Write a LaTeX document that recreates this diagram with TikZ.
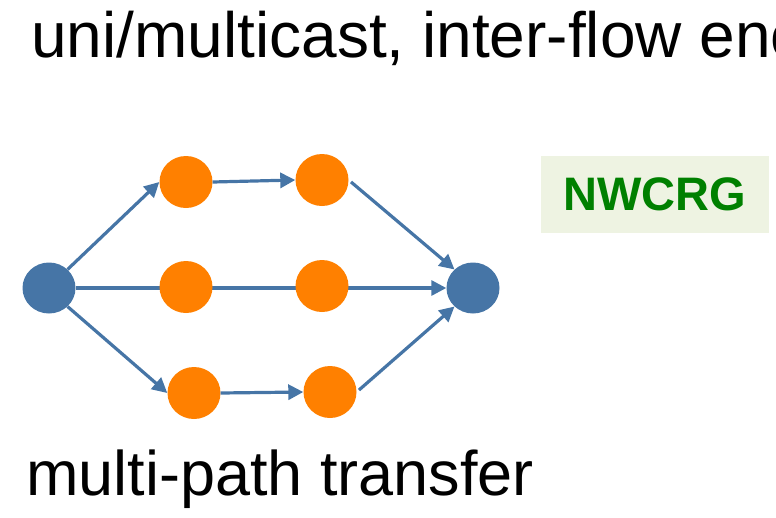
\documentclass[tikz,border=0pt]{standalone}
\usepackage{fontspec}
\setmainfont{Liberation Sans}
\usetikzlibrary{shapes.geometric,arrows.meta}
\definecolor{pathblue}{RGB}{70,117,166}
\definecolor{relayorange}{RGB}{255,128,0}
\definecolor{tagfill}{RGB}{238,243,226}
\definecolor{taggreen}{RGB}{0,128,0}
\tikzset{
    endpoint/.style={ellipse, fill=pathblue, minimum width=53pt, minimum height=51pt, inner sep=0pt},
    relay/.style={ellipse, fill=relayorange, minimum width=53pt, minimum height=52pt, inner sep=0pt},
    link/.style={draw=pathblue, line width=3.2pt},
    arrow/.style={link, -{Triangle[length=15pt, width=15pt]}},
    tag/.style={rectangle, fill=tagfill, minimum width=228pt, minimum height=77pt, inner sep=0pt, text=taggreen, font=\fontsize{47}{47}\selectfont\bfseries},
    heading/.style={anchor=base west, inner sep=0pt, font=\fontsize{63}{63}\selectfont}
}

\begin{document}
\begin{tikzpicture}[x=1pt, y=-1pt]
    \useasboundingbox (0,0) rectangle (776,517);

    \node[heading, font=\fontsize{64}{64}\selectfont] (title) at (31,57) {uni/multicast, inter-flow enc};
    \node[heading] (caption) at (26,495) {multi-path transfer};
    \node[tag] (wg) at (655,194.5) {NWCRG};

    % end points
    \node[endpoint] (src) at (49,288) {};
    \node[endpoint] (snk) at (473,288) {};

    % middle path runs behind its relays
    \draw[arrow] (src) -- (snk);
    \node[relay] (m1) at (186,287) {};
    \node[relay] (m2) at (322,286) {};

    % upper path
    \node[relay] (t1) at (186,182) {};
    \node[relay] (t2) at (322,180) {};
    \draw[arrow] (src.45) -- (t1.west);
    \draw[arrow] (t1.east) -- (t2.west);
    \draw[arrow, shorten <=3pt] (t2.east) -- (snk.135);

    % lower path
    \node[relay] (b1) at (194,393) {};
    \node[relay] (b2) at (330,392) {};
    \draw[arrow] (src.-45) -- (b1.west);
    \draw[arrow] (b1.east) -- (b2.west);
    \draw[arrow, shorten <=3pt] (b2.east) -- (snk.-135);
\end{tikzpicture}
\end{document}
